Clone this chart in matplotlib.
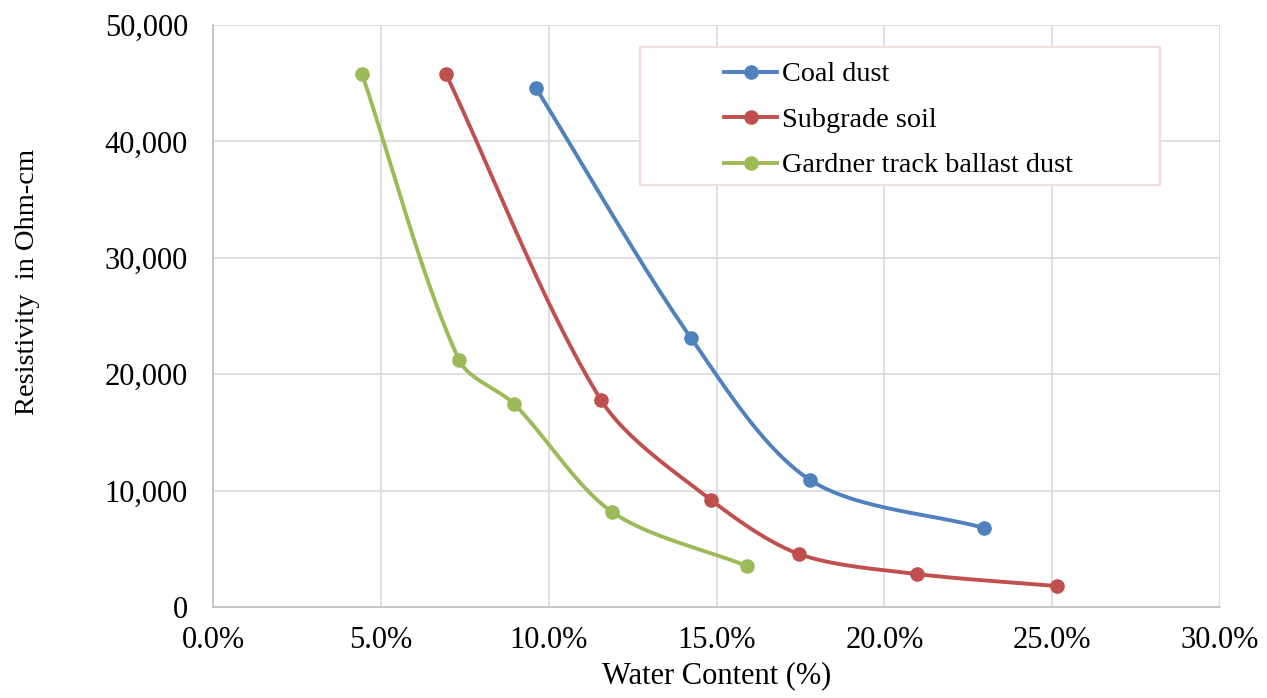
import numpy as np
import matplotlib
matplotlib.use("Agg")
import matplotlib.pyplot as plt
from matplotlib.patches import Rectangle
from matplotlib.lines import Line2D

plt.rcParams['font.family'] = ['Liberation Serif', 'DejaVu Serif']

series_names = ["Coal dust", "Subgrade soil", "Gardner track ballast dust"]
colors = ["#4F81BD", "#C0504D", "#9BBB59"]

coal_x = [9.62, 14.24, 17.79, 22.97]
coal_y = [44590, 23110, 10910, 6790]
soil_x = [6.94, 11.56, 14.84, 17.46, 20.97, 25.14]
soil_y = [45790, 17780, 9190, 4550, 2835, 1800]
gard_x = [4.44, 7.33, 8.97, 11.89, 15.91]
gard_y = [45790, 21220, 17440, 8160, 3520]

xs = [coal_x, soil_x, gard_x]
ys = [coal_y, soil_y, gard_y]

x_ticks = [0, 5, 10, 15, 20, 25, 30]
y_ticks = [0, 10000, 20000, 30000, 40000, 50000]

XMAX, YMAX = 30.0, 50000.0
W_PX, H_PX = 1007.0, 582.0


def smooth(x, y, n=40, k=0.3):
    # Excel-like Bezier smoothing computed in display-proportional space
    px = np.asarray(x) / XMAX * W_PX
    py = np.asarray(y) / YMAX * H_PX
    P = np.column_stack([px, py])
    m = len(P)
    out = []
    t = np.linspace(0, 1, n)[:, None]
    for i in range(m - 1):
        p0 = P[i - 1] if i > 0 else P[i]
        p1 = P[i]
        p2 = P[i + 1]
        p3 = P[i + 2] if i + 2 < m else P[i + 1]
        L = np.linalg.norm(p2 - p1)
        d1 = p2 - p0
        d2 = p3 - p1
        c1 = p1 + d1 / np.linalg.norm(d1) * L * k
        c2 = p2 - d2 / np.linalg.norm(d2) * L * k
        seg = ((1 - t) ** 3) * p1 + 3 * ((1 - t) ** 2) * t * c1 + 3 * (1 - t) * t ** 2 * c2 + t ** 3 * p2
        out.append(seg if i == 0 else seg[1:])
    C = np.vstack(out)
    return C[:, 0] / W_PX * XMAX, C[:, 1] / H_PX * YMAX


fig = plt.figure(figsize=(12.67, 6.98), dpi=100)
ax = fig.add_axes([213 / 1267, 1 - 607 / 698, 1007 / 1267, 582 / 698])

for x, y, c in zip(xs, ys, colors):
    sx, sy = smooth(x, y)
    ax.plot(sx, sy, color=c, lw=2.8, zorder=3, solid_capstyle='round')
    ax.plot(x, y, 'o', color=c, ms=9.5, zorder=4)

ax.set_xlim(0, 30)
ax.set_ylim(0, 50000)
ax.set_xticks(x_ticks)
ax.set_yticks(y_ticks)
ax.set_xticklabels([f"{v:.1f}%" for v in x_ticks])
ax.set_yticklabels([f"{v:,}" for v in y_ticks])
ax.grid(True, color="#D9D9D9", lw=1.2)
ax.set_axisbelow(True)
for s in ['top', 'right']:
    ax.spines[s].set_visible(False)
for s in ['left', 'bottom']:
    ax.spines[s].set_color("#BFBFBF")
    ax.spines[s].set_linewidth(1.2)
ax.tick_params(length=0, labelsize=22)
ax.tick_params(axis='y', pad=18)
ax.tick_params(axis='x', pad=14)
ax.set_xlabel("Water Content (%)", fontsize=22, labelpad=4)
ax.set_ylabel("Resistivity  in Ohm-cm", fontsize=20.5, va='center')
ax.yaxis.set_label_coords((28 - 213) / 1007, (607 - 282) / 582)

# legend
fig.patches.append(Rectangle((640 / 1267, 1 - 185 / 698), 520 / 1267, 138 / 698,
                             transform=fig.transFigure, facecolor='white',
                             edgecolor='#F2DCDB', lw=1.5, zorder=5))
handles = [Line2D([0], [0], color=c, lw=2.8, marker='o', ms=9.5) for c in colors]
leg = fig.legend(handles, series_names, loc='upper left',
                 bbox_to_anchor=(704 / 1267, 1 - 42 / 698), frameon=False,
                 fontsize=20.3, handlelength=1.9, handletextpad=0.15,
                 labelspacing=0.7, borderpad=0.2)
leg.set_zorder(6)

fig.savefig("out.png", dpi=100)
